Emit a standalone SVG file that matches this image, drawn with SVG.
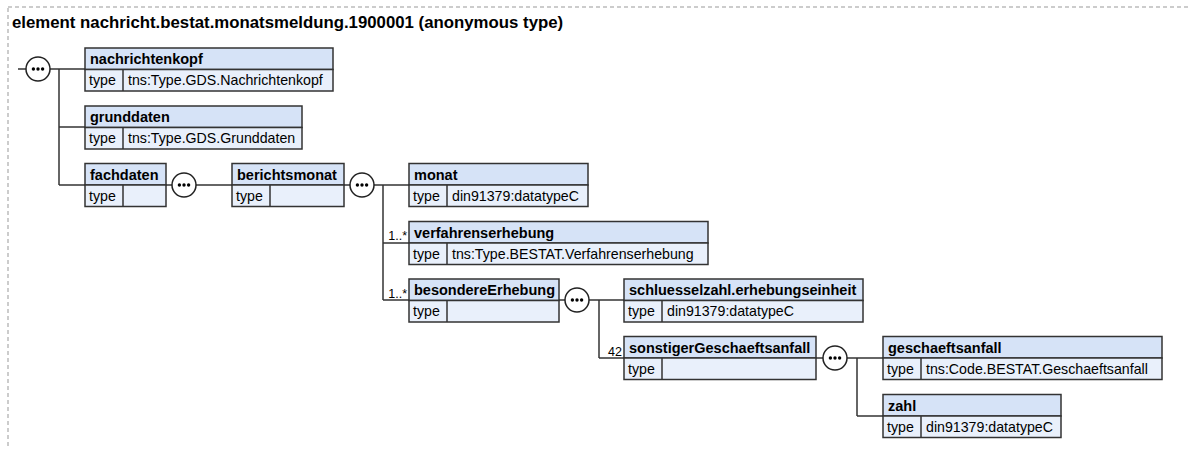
<svg xmlns="http://www.w3.org/2000/svg" width="1188" height="449" viewBox="0 0 1188 449">
<style>
text{font-family:"Liberation Sans",Arial,sans-serif;fill:#000}
.title{font-size:16.8px;font-weight:bold}
.hd{fill:#d6e3f7;stroke:#333;stroke-width:1.5}
.tr{fill:#e9f0fb;stroke:#333;stroke-width:1.5}
.dv{stroke:#333;stroke-width:1.5}
.name{font-size:14.5px;font-weight:bold}
.t{font-size:14.2px}
.occ{font-size:12.5px}
.conn line{stroke:#333;stroke-width:1.5;fill:none}
</style>
<defs>
<g id="seqicon">
<circle cx="0" cy="0" r="12" fill="#ffffff" stroke="#222222" stroke-width="1.5"/>
<circle cx="-4.6" cy="0" r="1.7" fill="#000000"/>
<circle cx="0" cy="0" r="1.7" fill="#000000"/>
<circle cx="4.6" cy="0" r="1.7" fill="#000000"/>
</g>
</defs>
<rect x="8" y="7" width="1184" height="460" fill="none" stroke="#999" stroke-width="1" stroke-dasharray="4,3"/>
<text class="title" x="12" y="28">element nachricht.bestat.monatsmeldung.1900001 (anonymous type)</text>

<g class="conn">
<line x1="18" y1="69" x2="26" y2="69"/>
<line x1="50" y1="69" x2="85" y2="69"/>
<line x1="59" y1="69" x2="59" y2="185"/>
<line x1="59" y1="127" x2="85" y2="127"/>
<line x1="59" y1="185" x2="85" y2="185"/>
<line x1="166" y1="185" x2="172" y2="185"/>
<line x1="196" y1="185" x2="232" y2="185"/>
<line x1="344" y1="185" x2="350" y2="185"/>
<line x1="374" y1="185" x2="409" y2="185"/>
<line x1="383" y1="185" x2="383" y2="300"/>
<line x1="383" y1="243" x2="409" y2="243"/>
<line x1="383" y1="300" x2="409" y2="300"/>
<line x1="559" y1="300" x2="565" y2="300"/>
<line x1="589" y1="300" x2="624" y2="300"/>
<line x1="599" y1="300" x2="599" y2="358"/>
<line x1="599" y1="358" x2="624" y2="358"/>
<line x1="816" y1="358" x2="823" y2="358"/>
<line x1="847" y1="358" x2="883" y2="358"/>
<line x1="857" y1="358" x2="857" y2="416"/>
<line x1="857" y1="416" x2="883" y2="416"/>
</g>

<g id="seq1"><use href="#seqicon" x="38" y="69"/></g>
<g id="seq2"><use href="#seqicon" x="184" y="185"/></g>
<g id="seq3"><use href="#seqicon" x="362" y="185"/></g>
<g id="seq4"><use href="#seqicon" x="577" y="300"/></g>
<g id="seq5"><use href="#seqicon" x="835" y="358"/></g>

<g id="nachrichtenkopf">
<rect class="hd" x="85" y="48" width="248" height="21.5"/>
<rect class="tr" x="85" y="69.5" width="248" height="21.5"/>
<line class="dv" x1="123" y1="69.5" x2="123" y2="91"/>
<text class="name" x="90" y="64">nachrichtenkopf</text>
<text class="t" x="89" y="85">type</text>
<text class="t" x="128" y="85">tns:Type.GDS.Nachrichtenkopf</text>
</g>

<g id="grunddaten">
<rect class="hd" x="85" y="106" width="217" height="21.5"/>
<rect class="tr" x="85" y="127.5" width="217" height="21.5"/>
<line class="dv" x1="123" y1="127.5" x2="123" y2="149"/>
<text class="name" x="90" y="122">grunddaten</text>
<text class="t" x="89" y="143">type</text>
<text class="t" x="128" y="143">tns:Type.GDS.Grunddaten</text>
</g>

<g id="fachdaten">
<rect class="hd" x="85" y="163.5" width="81" height="21.5"/>
<rect class="tr" x="85" y="185" width="81" height="21.5"/>
<line class="dv" x1="123" y1="185" x2="123" y2="206.5"/>
<text class="name" x="90" y="179.5">fachdaten</text>
<text class="t" x="89" y="200.5">type</text>
</g>

<g id="berichtsmonat">
<rect class="hd" x="232" y="163.5" width="112" height="21.5"/>
<rect class="tr" x="232" y="185" width="112" height="21.5"/>
<line class="dv" x1="270" y1="185" x2="270" y2="206.5"/>
<text class="name" x="237" y="179.5">berichtsmonat</text>
<text class="t" x="236" y="200.5">type</text>
</g>

<g id="monat">
<rect class="hd" x="409" y="163.5" width="179" height="21.5"/>
<rect class="tr" x="409" y="185" width="179" height="21.5"/>
<line class="dv" x1="447" y1="185" x2="447" y2="206.5"/>
<text class="name" x="414" y="179.5">monat</text>
<text class="t" x="413" y="200.5">type</text>
<text class="t" x="452" y="200.5">din91379:datatypeC</text>
</g>

<g id="verfahrenserhebung">
<rect class="hd" x="409" y="221.5" width="299" height="21.5"/>
<rect class="tr" x="409" y="243" width="299" height="21.5"/>
<line class="dv" x1="447" y1="243" x2="447" y2="264.5"/>
<text class="name" x="414" y="237.5">verfahrenserhebung</text>
<text class="t" x="413" y="258.5">type</text>
<text class="t" x="452" y="258.5">tns:Type.BESTAT.Verfahrenserhebung</text>
<text class="occ" x="407" y="240" text-anchor="end">1..*</text>
</g>

<g id="besondereErhebung">
<rect class="hd" x="409" y="279" width="150" height="21.5"/>
<rect class="tr" x="409" y="300.5" width="150" height="21.5"/>
<line class="dv" x1="447" y1="300.5" x2="447" y2="322"/>
<text class="name" x="414" y="295">besondereErhebung</text>
<text class="t" x="413" y="316">type</text>
<text class="occ" x="407" y="297.5" text-anchor="end">1..*</text>
</g>

<g id="schluesselzahl.erhebungseinheit">
<rect class="hd" x="624" y="279" width="239" height="21.5"/>
<rect class="tr" x="624" y="300.5" width="239" height="21.5"/>
<line class="dv" x1="662" y1="300.5" x2="662" y2="322"/>
<text class="name" x="629" y="295">schluesselzahl.erhebungseinheit</text>
<text class="t" x="628" y="316">type</text>
<text class="t" x="667" y="316">din91379:datatypeC</text>
</g>

<g id="sonstigerGeschaeftsanfall">
<rect class="hd" x="624" y="336.5" width="192" height="21.5"/>
<rect class="tr" x="624" y="358" width="192" height="21.5"/>
<line class="dv" x1="662" y1="358" x2="662" y2="379.5"/>
<text class="name" x="629" y="352.5">sonstigerGeschaeftsanfall</text>
<text class="t" x="628" y="373.5">type</text>
<text class="occ" x="622" y="355.5" text-anchor="end">42</text>
</g>

<g id="geschaeftsanfall">
<rect class="hd" x="883" y="336.5" width="279" height="21.5"/>
<rect class="tr" x="883" y="358" width="279" height="21.5"/>
<line class="dv" x1="921" y1="358" x2="921" y2="379.5"/>
<text class="name" x="888" y="352.5">geschaeftsanfall</text>
<text class="t" x="887" y="373.5">type</text>
<text class="t" x="926" y="373.5">tns:Code.BESTAT.Geschaeftsanfall</text>
</g>

<g id="zahl">
<rect class="hd" x="883" y="394.5" width="178" height="21.5"/>
<rect class="tr" x="883" y="416" width="178" height="21.5"/>
<line class="dv" x1="921" y1="416" x2="921" y2="437.5"/>
<text class="name" x="888" y="410.5">zahl</text>
<text class="t" x="887" y="431.5">type</text>
<text class="t" x="926" y="431.5">din91379:datatypeC</text>
</g>
</svg>
